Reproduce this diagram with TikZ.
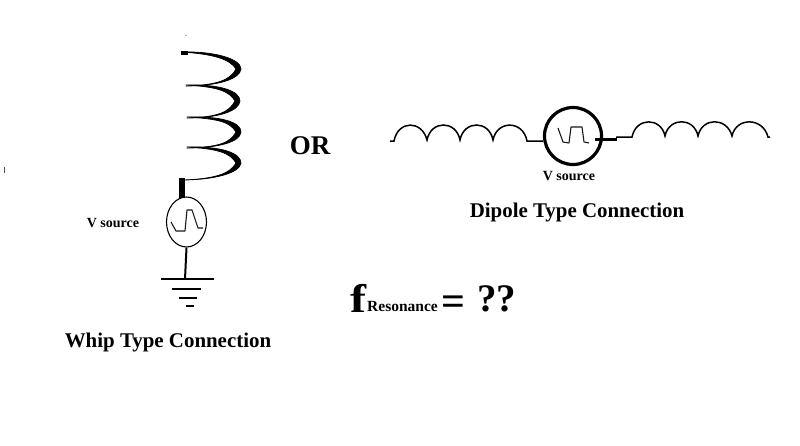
\documentclass[tikz,border=0pt]{standalone}
\usepackage{fontspec}
\setmainfont{Liberation Serif}
\usetikzlibrary{calc,shapes.geometric}
\tikzset{
  lbl/.style={inner sep=0pt,font=\bfseries},
  wire/.style={line width=1.5pt,black},
  wave/.style={line width=1.1pt,black!90,line join=round},
  gndline/.style={line width=2pt,black}
}
\newcommand{\crescent}[3]{% start, tip, end
  \filldraw[black,line width=0.7pt,line join=round] #1 .. controls +(34,-1) and +(0,-10) .. #2 .. controls +(-1,10) and +(32,0) .. #3
    .. controls +(32,-1) and +(-6,11) .. ($#2+(-5,0)$) .. controls +(-6,-10) and +(32,2) .. cycle;
}
\begin{document}
\begin{tikzpicture}[x=1pt,y=-1pt]
\useasboundingbox (0,0) rectangle (800,445);
% whip coil
\crescent{(181,52)}{(241,69)}{(186,86)}
\crescent{(186,85)}{(240,101)}{(187,118)}
\crescent{(187,117)}{(241,132)}{(187,148)}
\crescent{(187,147)}{(241,163)}{(182,180)}
\fill[black] (181,50.5) rectangle (188,54.5);
\node[draw,line width=1.1pt,ellipse,minimum width=40pt,minimum height=50pt,inner sep=0pt] (whipsrc) at (186.5,222) {};
\coordinate (coiltop) at (182,178);
\draw[line width=6pt] (coiltop) -- (182,198);
\coordinate (gnd) at (185,279);
\draw[gndline] (whipsrc.south) -- (gnd);
\draw[gndline] (161,279) -- (214,279);
\draw[gndline] (172,288.5) -- (201,288.5);
\draw[gndline] (179,298) -- (197,298);
\draw[gndline] (186,306) -- (194,306);
\draw[wave] (171,222) -- (176,231) -- (185,231) -- (187,210) -- (192,210) -- (198,228) -- (203,228);
\fill[black!60] (186,35.5) circle (0.6);
\fill[black!70] (3.5,167) rectangle (4.5,173);
% dipole
\node[draw,circle,line width=3.2pt,minimum size=57pt,inner sep=0pt] (dipsrc) at (573,136) {};
\coordinate (lend) at (527,141);
\draw[wire] (390,141) -- (394,141)
  .. controls (398,120) and (422,120) .. (427,140)
  .. controls (431,120) and (456,120) .. (460,140)
  .. controls (464,120) and (489,120) .. (493,140)
  .. controls (497,120) and (523,120) .. (527,141) -- (dipsrc.west |- lend);
\coordinate (rstart) at (632,137);
\draw[line width=3pt] (595,139) -- (617,139);
\draw[wire] (616,137) -- (rstart)
  .. controls (636,117) and (661,117) .. (665,136)
  .. controls (669,117) and (694,117) .. (698,136)
  .. controls (702,117) and (727,117) .. (732,136)
  .. controls (736,117) and (763,117) .. (768,137) -- (770,137);
\draw[wave] (558,128) -- (563,142) -- (569,143) -- (571,127) -- (582,127) -- (584,142) -- (589,143);
% text
\node[lbl,font=\bfseries\fontsize{14}{16}\selectfont] (vwhip) at (113,223) {V source};
\node[lbl,font=\bfseries\fontsize{14}{16}\selectfont] (vdip) at (569,176) {V source};
\node[lbl,font=\bfseries\fontsize{27}{30}\selectfont] (or) at (310,146) {OR};
\node[lbl,font=\bfseries\fontsize{20.9}{24}\selectfont] (dipt) at (577,212) {Dipole Type Connection};
\node[lbl,font=\bfseries\fontsize{20.9}{24}\selectfont] (whipt) at (168,342) {Whip Type Connection};
\node[lbl,anchor=base west,xscale=1.2,font=\bfseries\fontsize{40}{44}\selectfont] (ff) at (350,312) {f};
\node[lbl,anchor=base west,font=\bfseries\fontsize{15.5}{18}\selectfont] (res) at (367,311) {Resonance};
\node[lbl,anchor=base west,font=\bfseries\fontsize{42}{46}\selectfont] (eqq) at (441,315) {=};
\node[lbl,anchor=base west,font=\bfseries\fontsize{39}{44}\selectfont] (qq) at (477,311.5) {??};
\end{tikzpicture}
\end{document}
